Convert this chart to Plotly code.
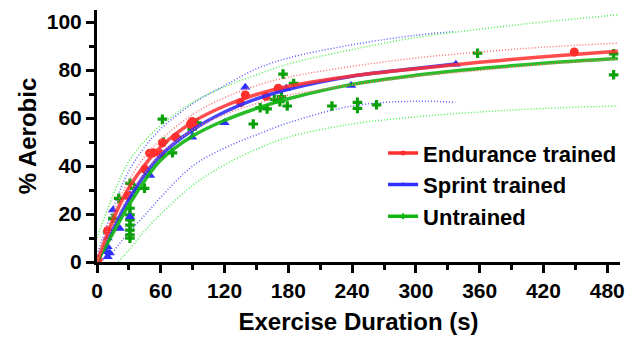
import plotly.graph_objects as go

# ---- data points ----
end_x = [1, 10, 29, 45, 49.5, 53, 60, 61.5, 74, 88, 89.5, 91, 135, 139.5, 159, 170.5, 449]
end_y = [1, 13, 27.5, 38.7, 45.3, 45.5, 45, 49.7, 52, 57.5, 58.5, 56.7, 66.4, 69.6, 69, 72.4, 87.5]

spr_x = [9, 10, 10, 10, 12, 15, 21.4, 31, 31, 50, 52, 60, 89.5, 120, 139.5, 178, 239, 337.6]
spr_y = [4.3, 2.2, 6.4, 10, 3.7, 21.7, 14, 18.9, 28, 36, 45.3, 45.4, 52, 58, 72.8, 72.4, 73.5, 82.4]

unt_x = [10, 15, 20.5, 31, 31, 31, 31, 31, 31, 31, 31, 35.4, 44.7, 45.5, 61.5, 62.5, 71, 74.5,
         89.5, 94, 147, 153.5, 160, 166.8, 172, 173.5, 175, 179, 185, 221, 245, 245, 263, 358, 486, 486]
unt_y = [12.5, 18.2, 26.5, 32.8, 22.4, 19.6, 17.5, 15.4, 13.3, 11.3, 9.9, 30.7, 30.7, 38, 59.5, 50, 45.5, 52,
         55.4, 58, 57.5, 64.3, 63.8, 67.8, 66.8, 68.9, 78.3, 65, 74.4, 65, 66.5, 64, 65.5, 87, 86.7, 78]

# ---- fitted curves and confidence bands ----
fit_x = [0, 10, 20, 30, 45, 60, 90, 120, 150, 180, 240, 300, 360, 420, 490]
end_fit = [0, 12, 22.5, 31, 40.5, 48, 58.3, 65, 69.8, 73.2, 77.5, 80.5, 83.2, 85.5, 87.8]
end_hi = [0.5, 14, 25.5, 34, 44, 51, 61.5, 68.5, 73.5, 77, 81.5, 85, 87.5, 89.5, 91.2]
end_lo = [0, 10, 19.5, 28, 37, 45, 55, 61.5, 66, 69.5, 73.8, 77.3, 79.8, 82.3, 84.6]

unt_fit = [0, 8, 16, 23.7, 34, 42.5, 52.5, 59, 64, 68, 74, 77.8, 80.6, 82.8, 84.8]
unt_hi = [10, 22, 33, 42, 50.5, 57, 66.5, 73, 78, 82.5, 88.5, 93.5, 97, 100, 103]
unt_lo_x = [20, 30, 45, 60, 90, 120, 150, 180, 240, 300, 360, 420, 490]
unt_lo = [0, 5, 13, 20, 32, 40.5, 47, 52, 57.5, 60.5, 62.5, 64, 65]

spr_fx = [0, 10, 20, 30, 45, 60, 90, 120, 150, 180, 240, 300, 337]
spr_fit = [0, 9, 18, 26, 36.5, 44.5, 55, 62.5, 68, 72, 77.4, 80.6, 82.5]
spr_hi = [3, 16, 28, 38, 48, 55.5, 66, 73.5, 80.5, 85, 90.5, 94.5, 96]
spr_lo = [0, 2, 7, 12.5, 19.5, 27, 40, 47.5, 53, 58, 65, 67, 66.5]

names = ["Endurance trained", "Sprint trained", "Untrained"]

RED, BLUE, GREEN = "#ff2e2e", "#2f2fff", "#11b511"
RED_D, BLUE_D, GREEN_D = "#ff7070", "#5a5aff", "#4ef04e"

fig = go.Figure()

def band(x, y, c):
    fig.add_trace(go.Scatter(x=x, y=y, mode="lines", line=dict(color=c, width=1.5, dash="1px,2px", shape="spline"),
                             showlegend=False, hoverinfo="skip"))

band(spr_fx, spr_hi, BLUE_D)
band(spr_fx, spr_lo, BLUE_D)
band(fit_x, unt_hi, GREEN_D)
band(unt_lo_x, unt_lo, GREEN_D)

fig.add_trace(go.Scatter(x=unt_x, y=unt_y, mode="markers", marker=dict(symbol="cross", size=8, color="#0aa00a"),
                         showlegend=False))
fig.add_trace(go.Scatter(x=spr_x, y=spr_y, mode="markers", marker=dict(symbol="triangle-up", size=9, color=BLUE),
                         showlegend=False))
fig.add_trace(go.Scatter(x=end_x, y=end_y, mode="markers", marker=dict(symbol="circle", size=9, color=RED),
                         showlegend=False))

fig.add_trace(go.Scatter(x=spr_fx, y=spr_fit, mode="lines", line=dict(color=BLUE, width=3.5, shape="spline"),
                         opacity=0.9, showlegend=False))
fig.add_trace(go.Scatter(x=fit_x, y=unt_fit, mode="lines", line=dict(color=GREEN, width=3.5, shape="spline"),
                         opacity=0.9, showlegend=False))
fig.add_trace(go.Scatter(x=fit_x, y=end_fit, mode="lines", line=dict(color=RED, width=3.5, shape="spline"),
                         opacity=0.85, showlegend=False))
band(fit_x, end_hi, RED_D)
band(fit_x, end_lo, RED_D)

# legend entries
for nm, c, sym in zip(names, [RED, BLUE, GREEN], ["circle", "triangle-up", "cross"]):
    fig.add_trace(go.Scatter(x=[None], y=[None], mode="lines+markers", name=nm,
                             line=dict(color=c, width=3.5), marker=dict(symbol=sym, size=5, color=c)))

font_b = dict(family="Liberation Sans, Arial", color="black", weight="bold")

fig.update_layout(
    width=634, height=341,
    margin=dict(l=97, r=9, t=10, b=79),
    plot_bgcolor="white", paper_bgcolor="white",
    showlegend=True,
    legend=dict(x=0.547, y=0.515, xanchor="left", yanchor="top",
                font=dict(size=22, **font_b), bgcolor="rgba(0,0,0,0)", tracegroupgap=0,
                itemwidth=30),
    xaxis=dict(range=[0, 492], tickvals=[0, 60, 120, 180, 240, 300, 360, 420, 480],
               showline=True, linecolor="black", linewidth=3, ticks="outside", ticklen=8, tickwidth=3,
               tickcolor="black", showgrid=False, zeroline=False,
               minor=dict(tickvals=[30, 90, 150, 210, 270, 330, 390, 450], ticks="outside", ticklen=5,
                          tickwidth=3, tickcolor="black"),
               tickfont=dict(size=21, **font_b),
               title=dict(text="Exercise Duration (s)", font=dict(size=24, **font_b), standoff=12)),
    yaxis=dict(range=[0, 105], tickvals=[0, 20, 40, 60, 80, 100],
               showline=True, linecolor="black", linewidth=3, ticks="outside", ticklen=8, tickwidth=3,
               tickcolor="black", showgrid=False, zeroline=False,
               minor=dict(tickvals=[10, 30, 50, 70, 90], ticks="outside", ticklen=5, tickwidth=3,
                          tickcolor="black"),
               tickfont=dict(size=21, **font_b),
               title=dict(text="% Aerobic", font=dict(size=24, **font_b), standoff=4)),
)

fig.write_html("out.html")
